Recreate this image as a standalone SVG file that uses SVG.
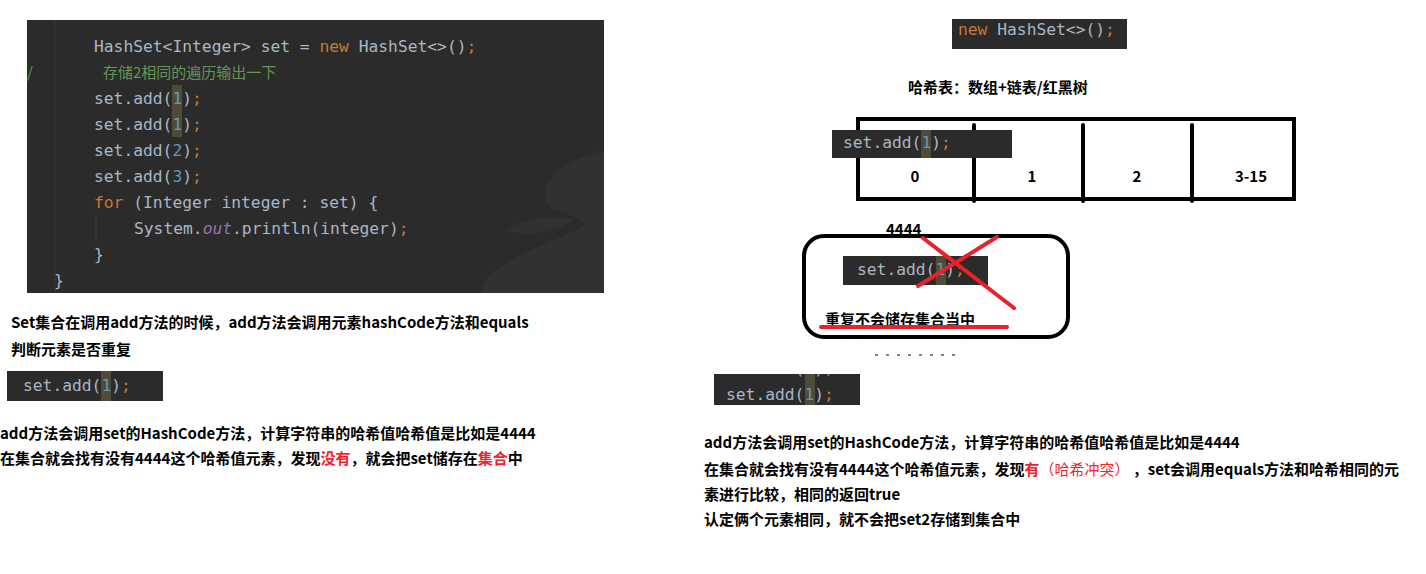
<svg xmlns="http://www.w3.org/2000/svg" width="1426" height="574" viewBox="0 0 1426 574">
<style>
.code{font-family:"DejaVu Sans Mono","Liberation Mono",monospace;font-size:16.3px;fill:#a9b7c6}
.kw{fill:#cc7832}
.num{fill:#6897bb}
.out{fill:#9876aa;font-style:italic}
.cmt{font-family:"Noto Sans CJK SC",sans-serif;font-size:15px;fill:#629755}
.bg{fill:#2b2b2b}
.hl{fill:#4e4c38}
.t{font-family:"Noto Sans CJK SC","Noto Sans",sans-serif;font-size:15px;font-weight:bold;fill:#000}
.red{fill:#f5222d}
.reg{font-weight:normal}
</style>
<defs>
<clipPath id="clipBR"><rect x="714" y="374" width="146" height="31"/></clipPath>
</defs>

<g id="code-panel">
<rect class="bg" x="27" y="20" width="577" height="273"/>
<g fill="#313131">
<path d="M604 150 C570 160 540 175 545 200 C550 215 575 210 585 225 C560 240 520 250 490 275 L480 293 L604 293 Z"/>
<path d="M560 190 C580 180 600 185 604 195 L604 215 C590 205 575 205 560 190 Z"/>
<path d="M505 230 C530 215 555 215 575 220 C555 232 530 238 505 230 Z"/>
</g>
<line x1="55" y1="20" x2="55" y2="293" stroke="#393939" stroke-width="1"/>
<line x1="96" y1="215" x2="96" y2="244" stroke="#3b3b3b" stroke-width="1"/>
<text x="27" y="78" class="cmt">/</text>
<rect class="hl" x="172" y="85" width="10" height="52"/>
<text class="code" x="94" y="52">HashSet&lt;Integer&gt; set = <tspan class="kw">new</tspan> HashSet&lt;&gt;()<tspan class="kw">;</tspan></text>
<text class="cmt" x="103" y="78">存储2相同的遍历输出一下</text>
<text class="code" x="94" y="104">set.add(<tspan class="num">1</tspan>)<tspan class="kw">;</tspan></text>
<text class="code" x="94" y="130">set.add(<tspan class="num">1</tspan>)<tspan class="kw">;</tspan></text>
<text class="code" x="94" y="156">set.add(<tspan class="num">2</tspan>)<tspan class="kw">;</tspan></text>
<text class="code" x="94" y="182">set.add(<tspan class="num">3</tspan>)<tspan class="kw">;</tspan></text>
<text class="code" x="94" y="208"><tspan class="kw">for</tspan> (Integer integer : set) {</text>
<text class="code" x="134" y="234">System.<tspan class="out">out</tspan>.println(integer)<tspan class="kw">;</tspan></text>
<text class="code" x="94" y="260">}</text>
<text class="code" x="54" y="286">}</text>
</g>

<g id="left-desc">
<text class="t" x="11" y="328">Set集合在调用add方法的时候，add方法会调用元素hashCode方法和equals</text>
<text class="t" x="11" y="355">判断元素是否重复</text>
</g>

<g id="left-code">
<rect class="bg" x="7" y="371" width="156" height="30"/>
<rect class="hl" x="101" y="371" width="10" height="30"/>
<text class="code" x="23" y="391">set.add(<tspan class="num">1</tspan>)<tspan class="kw">;</tspan></text>
</g>

<g id="left-explain">
<text class="t" x="0" y="439">add方法会调用set的HashCode方法，计算字符串的哈希值哈希值是比如是4444</text>
<text class="t" x="0" y="464">在集合就会找有没有4444这个哈希值元素，发现<tspan class="red">没有</tspan>，就会把set储存在<tspan class="red">集合</tspan>中</text>
</g>

<g id="new-hashset">
<rect class="bg" x="952" y="19" width="175" height="30"/>
<text class="code" x="958" y="35"><tspan class="kw">new</tspan> HashSet&lt;&gt;()<tspan class="kw">;</tspan></text>
</g>

<g id="hash-title">
<text class="t" x="908" y="93">哈希表：数组+链表/红黑树</text>
</g>

<g id="hash-table">
<rect x="858" y="119" width="436" height="80" fill="#fff" stroke="#000" stroke-width="4"/>
<g stroke="#000" stroke-width="4" stroke-linecap="round">
<line x1="974" y1="125" x2="974" y2="201"/>
<line x1="1083" y1="125" x2="1083" y2="201"/>
<line x1="1192" y1="125" x2="1192" y2="201"/>
</g>
<text class="t" x="915" y="182" text-anchor="middle">0</text>
<text class="t" x="1032" y="182" text-anchor="middle">1</text>
<text class="t" x="1137" y="182" text-anchor="middle">2</text>
<text class="t" x="1251" y="182" text-anchor="middle">3-15</text>
</g>

<g id="table-code">
<rect class="bg" x="832" y="130" width="180" height="28"/>
<rect class="hl" x="921" y="130" width="10" height="28"/>
<text class="code" x="843" y="148">set.add(<tspan class="num">1</tspan>)<tspan class="kw">;</tspan></text>
</g>

<g id="dup-box">
<rect x="804" y="236" width="264" height="101" rx="20" ry="20" fill="#fff" stroke="#000" stroke-width="4"/>
<rect class="bg" x="843" y="256" width="145" height="29"/>
<rect class="hl" x="936" y="256" width="10" height="29"/>
<text class="code" x="857" y="275">set.add(<tspan class="num">1</tspan>)<tspan class="kw">;</tspan></text>
<text class="t" x="886" y="235">4444</text>
<g stroke="#e8212b" stroke-width="4" stroke-linecap="round">
<line x1="923" y1="238" x2="1014" y2="308"/>
<line x1="918" y1="286" x2="997" y2="237"/>
</g>
<text class="t" x="825" y="325">重复不会储存集合当中</text>
<line x1="821" y1="327" x2="1007" y2="327" stroke="#e8212b" stroke-width="4" stroke-linecap="round"/>
</g>

<g id="cut-text">
<line x1="875" y1="355" x2="963" y2="355" stroke="#000" stroke-width="1" stroke-dasharray="3 8"/>
</g>

<g id="right-code">
<rect class="bg" x="714" y="374" width="146" height="31"/>
<rect class="hl" x="805" y="374" width="10" height="31"/>
<g clip-path="url(#clipBR)">
<text class="code" x="726" y="374">set.add(<tspan class="num">1</tspan>)<tspan class="kw">;</tspan></text>
</g>
<text class="code" x="726" y="400">set.add(<tspan class="num">1</tspan>)<tspan class="kw">;</tspan></text>
</g>

<g id="right-explain">
<text class="t" x="704" y="448">add方法会调用set的HashCode方法，计算字符串的哈希值哈希值是比如是4444</text>
<text class="t" x="704" y="475" xml:space="preserve">在集合就会找有没有4444这个哈希值元素，发现<tspan class="red">有</tspan><tspan class="red reg">（哈希冲突）</tspan> ，set会调用equals方法和哈希相同的元</text>
<text class="t" x="704" y="500">素进行比较，相同的返回true</text>
<text class="t" x="704" y="525">认定俩个元素相同，就不会把set2存储到集合中</text>
</g>
</svg>
